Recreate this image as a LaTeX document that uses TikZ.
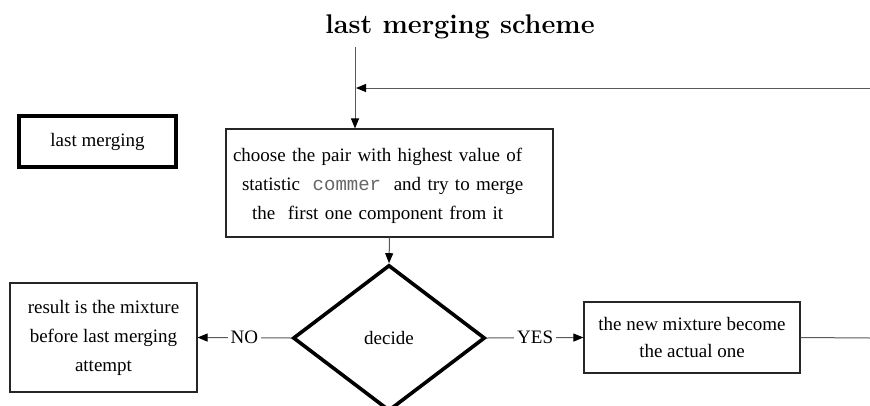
\documentclass[tikz,border=0pt]{standalone}
\usepackage{fontspec}
\setmainfont{Liberation Serif}
\newfontfamily\lmbold{Latin Modern Roman}
\newfontfamily\codefont{Liberation Mono}
\usetikzlibrary{shapes.geometric,arrows.meta}
\tikzset{
  px/.style={x=1pt,y=-1pt},
  bodyfont/.style={font=\fontsize{19}{29}\selectfont},
  plainbox/.style={draw=black!85, line width=1.1pt, rectangle, inner sep=0pt, align=center, bodyfont},
  heavybox/.style={draw=black, line width=3.6pt, rectangle, inner sep=0pt, align=center, bodyfont},
  choice/.style={draw=black, line width=3.6pt, diamond, inner sep=0pt, bodyfont},
  link/.style={draw=black!65, line width=1pt},
  arrowlink/.style={link, -{Triangle[length=10pt,width=8pt,black]}},
  tag/.style={fill=white, inner sep=3pt, bodyfont},
}
\begin{document}
\begin{tikzpicture}[px]
  \clip (0,0) rectangle (870,405);
  \useasboundingbox (0,0) rectangle (870,405);

  % heading
  \node (title) at (460,27) {\lmbold\bfseries\fontsize{27}{30}\selectfont last merging scheme};

  % label box on the left
  \node[heavybox, minimum width=157pt, minimum height=51pt] (lm) at (97.5,141.5) {last merging};

  % merging step: frame, then its text set a little lower
  \node[plainbox, minimum width=327pt, minimum height=108pt] (choose) at (389.5,183) {};
  \node[bodyfont, inner sep=0pt, text width=313pt, align=left] (choosetext) at (389.5,186)
    {choose the pair with highest value of\\
     \hspace*{9pt}statistic \ {\codefont\color{black!60}commer}\ \ and try to merge\\
     \hspace*{19pt}the \ first one component from it};

  % decision
  \node[choice, minimum width=192pt, minimum height=146pt, aspect=1.315] (dec) at (389,338) {decide};

  % outcomes
  \node[plainbox, minimum width=187pt, minimum height=109pt] (fail) at (103.5,337.5)
    {result is the mixture\\ before last merging\\ attempt};
  \node[plainbox, minimum width=216pt, minimum height=71pt, font=\fontsize{19}{27}\selectfont] (ok) at (692,337.5)
    {the new mixture become\\ the actual one};

  % free ends
  \coordinate (entry) at (355,47);
  \coordinate (loopin) at (870,88);
  \coordinate (loopout) at (870,338);
  \coordinate (join) at (356,88);

  % connectors
  \draw[arrowlink] (entry) -- (choose.north -| entry);
  \draw[arrowlink] (loopin) -- (join);
  \draw[arrowlink] (choose.south) -- (dec.north);
  \draw[arrowlink] (dec.west) -- node[tag] {NO} (fail.east);
  \draw[arrowlink] (dec.east) -- node[tag] {YES} (ok.west);
  \draw[link] (ok.east) -- (loopout);
\end{tikzpicture}
\end{document}
